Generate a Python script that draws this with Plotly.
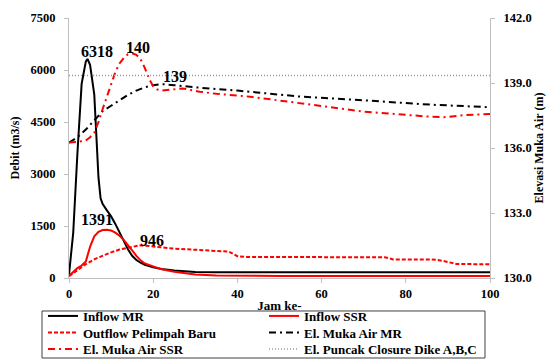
import plotly.graph_objects as go

# ---------------- data ----------------
t_inflow_mr = [0, 1, 2, 3, 4, 4.4, 5, 6, 6.5, 7, 7.5, 8, 9, 10, 11, 12, 13, 14, 15, 16, 17, 18, 20, 22, 25, 30, 35, 40, 50, 60, 70, 80, 90, 100]
inflow_mr = [100, 1300, 3600, 5600, 6250, 6318, 6150, 5300, 4100, 2900, 2300, 2130, 1950, 1780, 1560, 1320, 1080, 830, 640, 520, 440, 380, 310, 260, 215, 175, 165, 165, 165, 165, 165, 165, 165, 165]

t_inflow_ssr = [0, 1, 2, 3, 4, 5, 6, 7, 8, 9, 10, 11, 12, 13, 14, 15, 16, 17, 18, 20, 22, 25, 30, 35, 40, 50, 60, 70, 80, 90, 100]
inflow_ssr = [60, 180, 290, 360, 480, 900, 1200, 1330, 1385, 1391, 1370, 1310, 1220, 1100, 960, 800, 640, 510, 420, 330, 250, 180, 100, 70, 60, 60, 60, 60, 60, 60, 60]

t_outflow = [0, 2, 4, 6, 8, 10, 12, 14, 16, 17, 18, 20, 22, 25, 30, 36, 38, 40, 42, 75, 77, 87, 89, 92, 100]
outflow = [50, 220, 400, 540, 650, 740, 820, 870, 920, 946, 935, 905, 875, 845, 815, 775, 760, 630, 605, 600, 535, 530, 490, 405, 395]

t_el_mr = [0, 2, 4, 6, 8, 10, 12, 14, 16, 18, 20, 22, 25, 30, 40, 55, 70, 86, 100]
el_mr = [136.25, 136.5, 136.85, 137.3, 137.7, 137.95, 138.2, 138.45, 138.65, 138.8, 138.9, 138.95, 138.9, 138.8, 138.65, 138.37, 138.2, 138.0, 137.88]

t_el_ssr = [0, 2, 4, 5, 6, 7, 8, 9, 10, 11, 12, 13, 14, 15, 16, 17, 18, 19, 20, 21, 22, 24, 27, 31, 35, 43, 55, 70, 86, 89, 94, 100]
el_ssr = [136.25, 136.28, 136.35, 136.5, 136.7, 137.2, 137.8, 138.4, 138.95, 139.5, 139.9, 140.15, 140.33, 140.37, 140.3, 140.1, 139.7, 139.2, 138.85, 138.7, 138.65, 138.7, 138.75, 138.6, 138.5, 138.37, 138.06, 137.68, 137.44, 137.42, 137.52, 137.57]

t_closure = [0, 100]
el_closure = [139.35, 139.35]

# peak labels: (text, x, y, axis, xshift, yshift)
peak_labels = [
    ("6318", 4.4, 6318, "y", 9, 7),
    ("1391", 9, 1391, "y", -10, 10),
    ("946", 17, 946, "y", 11, 5),
    ("140", 15, 140.37, "y2", 6, 6),
    ("139", 22, 138.95, "y2", 13, 8),
]

FONT = "Liberation Serif, Times New Roman, serif"
AXIS_GRAY = "#bfbfbf"

def bold(size):
    return dict(family=FONT, size=size, color="black", weight="bold")

fig = go.Figure()
fig.add_trace(go.Scatter(x=t_inflow_mr, y=inflow_mr, name="Inflow MR", mode="lines", legend="legend",
                         line=dict(color="black", width=2)))
fig.add_trace(go.Scatter(x=t_inflow_ssr, y=inflow_ssr, name="Inflow SSR", mode="lines", legend="legend",
                         line=dict(color="#ff0000", width=2)))
fig.add_trace(go.Scatter(x=t_outflow, y=outflow, name="Outflow Pelimpah Baru", mode="lines", legend="legend2",
                         line=dict(color="#ff0000", width=2, dash="4px,2px")))
fig.add_trace(go.Scatter(x=t_el_mr, y=el_mr, name="El. Muka Air MR", mode="lines", yaxis="y2", legend="legend2",
                         line=dict(color="black", width=2, dash="7px,4px,2px,4px")))
fig.add_trace(go.Scatter(x=t_el_ssr, y=el_ssr, name="El. Muka Air SSR", mode="lines", yaxis="y2", legend="legend3",
                         line=dict(color="#ff0000", width=2, dash="7px,4px,2px,4px")))
fig.add_trace(go.Scatter(x=t_closure, y=el_closure, name="El. Puncak Closure Dike A,B,C", mode="lines", yaxis="y2",
                         legend="legend3", line=dict(color="#999999", width=1.5, dash="1px,2px")))

for text, x, y, ax, xs, ys in peak_labels:
    fig.add_annotation(x=x, y=y, xref="x", yref=ax, text=text, showarrow=False,
                       xshift=xs, yshift=ys, xanchor="center", yanchor="middle",
                       font=bold(16))

axis_common = dict(showline=True, linecolor=AXIS_GRAY, linewidth=1, ticks="outside", ticklen=4,
                   tickcolor=AXIS_GRAY, showgrid=False, zeroline=False, tickfont=bold(12.5))

# legend frame (paper coords)
fig.add_shape(type="rect", xref="paper", yref="paper", x0=-0.0641, x1=0.9881, y0=-0.1269, y1=-0.3077,
              line=dict(color="#404040", width=1), fillcolor="rgba(0,0,0,0)")

leg_common = dict(orientation="h", x=-0.0618, xanchor="left", yanchor="middle",
                  borderwidth=0, bgcolor="rgba(0,0,0,0)", entrywidth=176, font=bold(13))

fig.update_layout(
    width=548, height=359,
    margin=dict(l=69, r=58, t=18, b=81, autoexpand=False),
    paper_bgcolor="white", plot_bgcolor="white",
    font=bold(12),
    xaxis=dict(range=[0, 100], dtick=20, tick0=0,
               title=dict(text="Jam ke-", standoff=0, font=bold(13)), **axis_common),
    yaxis=dict(range=[0, 7500], dtick=1500, tick0=0, ticklabelstandoff=6,
               title=dict(text="Debit (m3/s)", standoff=8, font=bold(12)), **axis_common),
    yaxis2=dict(range=[130, 142], dtick=3, tick0=130, tickformat=".1f", overlaying="y", side="right",
                ticklabelstandoff=6,
                title=dict(text="Elevasi Muka Air (m)", standoff=3, font=bold(12)), **axis_common),
    legend=dict(y=-0.1461, **leg_common),
    legend2=dict(y=-0.2096, **leg_common),
    legend3=dict(y=-0.2731, **leg_common),
    showlegend=True,
)

fig.write_html("out.html")
